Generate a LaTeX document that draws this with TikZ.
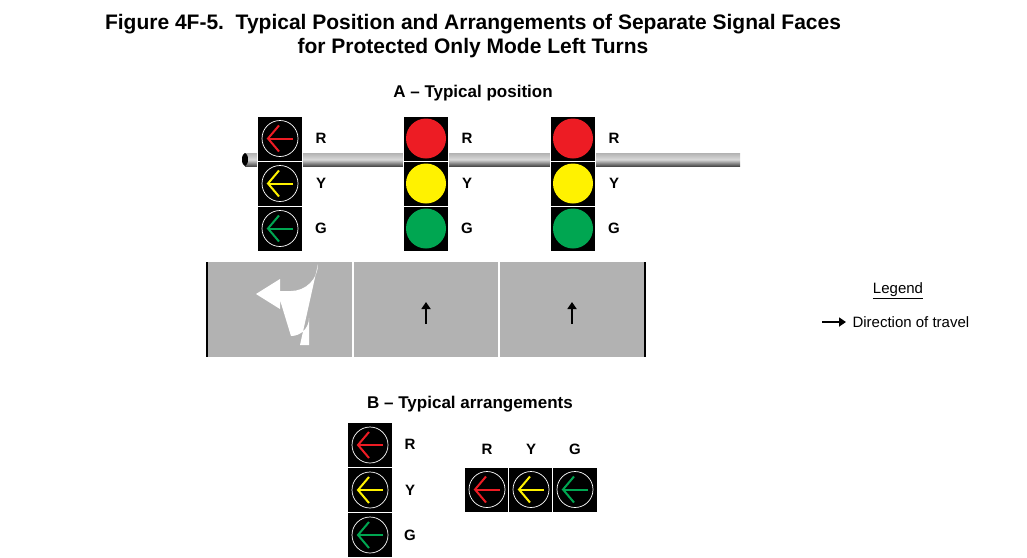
\documentclass[tikz,border=0pt]{standalone}
\usepackage{fontspec}
\setmainfont{Liberation Sans}
\usetikzlibrary{arrows.meta}
\definecolor{sigred}{RGB}{237,28,36}
\definecolor{sigyel}{RGB}{255,242,0}
\definecolor{siggrn}{RGB}{0,166,81}
\definecolor{road}{RGB}{178,178,178}
\tikzset{
  head/.style={fill=black,draw=white,line width=0.8pt,minimum size=45pt,inner sep=0pt},
  lbl/.style={font=\bfseries\fontsize{15}{15}\selectfont},
  ttl/.style={font=\bfseries\fontsize{21}{24}\selectfont,align=center},
}
% arrow lens: #1 node, #2 colour
\newcommand{\arrowlens}[2]{%
  \draw[white,line width=0.7pt] (#1) circle (18pt);
  \draw[#2,line width=2pt] ([xshift=13pt]#1.center) -- ([xshift=-12pt]#1.center);
  \draw[#2,line width=2pt] ([xshift=-1pt,yshift=-13pt]#1.center) -- ([xshift=-12pt]#1.center) -- ([xshift=-1pt,yshift=13pt]#1.center);
}
\newcommand{\balllens}[2]{\fill[#2] (#1) circle (20pt);}
\begin{document}
\begin{tikzpicture}[x=1pt,y=-1pt]
  \useasboundingbox (0,0) rectangle (1027,557);
  % titles
  \node[ttl] (title) at (473,36) {Figure 4F-5.\ \ Typical Position and Arrangements of Separate Signal Faces\\for Protected Only Mode Left Turns};
  \node[ttl,font=\bfseries\fontsize{17}{17}\selectfont] (ta) at (473,93) {A -- Typical position};
  % pole
  \shade[top color=gray!60,bottom color=black!70,middle color=gray!30] (245,153) rectangle (740,166);
  \fill[black] (245,159.5) ellipse (3 and 6.5);
  % position A heads
  \foreach \hx/\hn in {280/a,426/b,573/c}{
    \node[head] (\hn1) at (\hx,138.5) {};
    \node[head] (\hn2) at (\hx,183.5) {};
    \node[head] (\hn3) at (\hx,228.5) {};
    \node[lbl] at (\hx+41,138) {R};
    \node[lbl] at (\hx+41,183) {Y};
    \node[lbl] at (\hx+41,228) {G};
  }
  \arrowlens{a1}{sigred}
  \arrowlens{a2}{sigyel}
  \arrowlens{a3}{siggrn}
  \foreach \hn in {b,c}{
    \balllens{\hn1}{sigred}
    \balllens{\hn2}{sigyel}
    \balllens{\hn3}{siggrn}
  }
  % road
  \fill[road] (207,262) rectangle (645,357);
  \draw[white,line width=1.2pt] (353,262) -- (353,357) (499,262) -- (499,357);
  \draw[black,line width=2pt] (207,262) -- (207,357) (645,262) -- (645,357);
  \fill[white] (300,345) -- (309,345) -- (309,318) arc (0:90:18) -- (280,300) -- (280,309) -- (256,294) -- (280,279) -- (280,291) -- (291,291) arc (90:0:27) -- cycle;
  \foreach \ax in {426,572}
    \draw[line width=2.5pt,-{Triangle[length=7pt,width=9pt]}] (\ax,324) -- (\ax,302);
  % legend
  \node[font=\fontsize{15}{15}\selectfont] (leg) at (898,291) {\underline{Legend}};
  \coordinate (la) at (822,322);
  \coordinate (lb) at (846,322);
  \draw[line width=2.5pt,-{Triangle[length=7pt,width=9pt]}] (la) -- (lb);
  \node[anchor=west,font=\fontsize{15}{15}\selectfont] (dir) at (849,322) {Direction of travel};
  % B arrangements
  \node[ttl,font=\bfseries\fontsize{17}{17}\selectfont] (tb) at (470,404) {B -- Typical arrangements};
  \node[head] (v1) at (370,445) {};
  \node[head] (v2) at (370,490) {};
  \node[head] (v3) at (370,535) {};
  \node[lbl] at (410,444) {R};
  \node[lbl] at (410,490) {Y};
  \node[lbl] at (410,535) {G};
  \node[head] (h1) at (487,489.5) {};
  \node[head] (h2) at (531,489.5) {};
  \node[head] (h3) at (575,489.5) {};
  \node[lbl] at (487,449) {R};
  \node[lbl] at (531,449) {Y};
  \node[lbl] at (575,449) {G};
  \arrowlens{v1}{sigred}
  \arrowlens{v2}{sigyel}
  \arrowlens{v3}{siggrn}
  \arrowlens{h1}{sigred}
  \arrowlens{h2}{sigyel}
  \arrowlens{h3}{siggrn}
\end{tikzpicture}
\end{document}
